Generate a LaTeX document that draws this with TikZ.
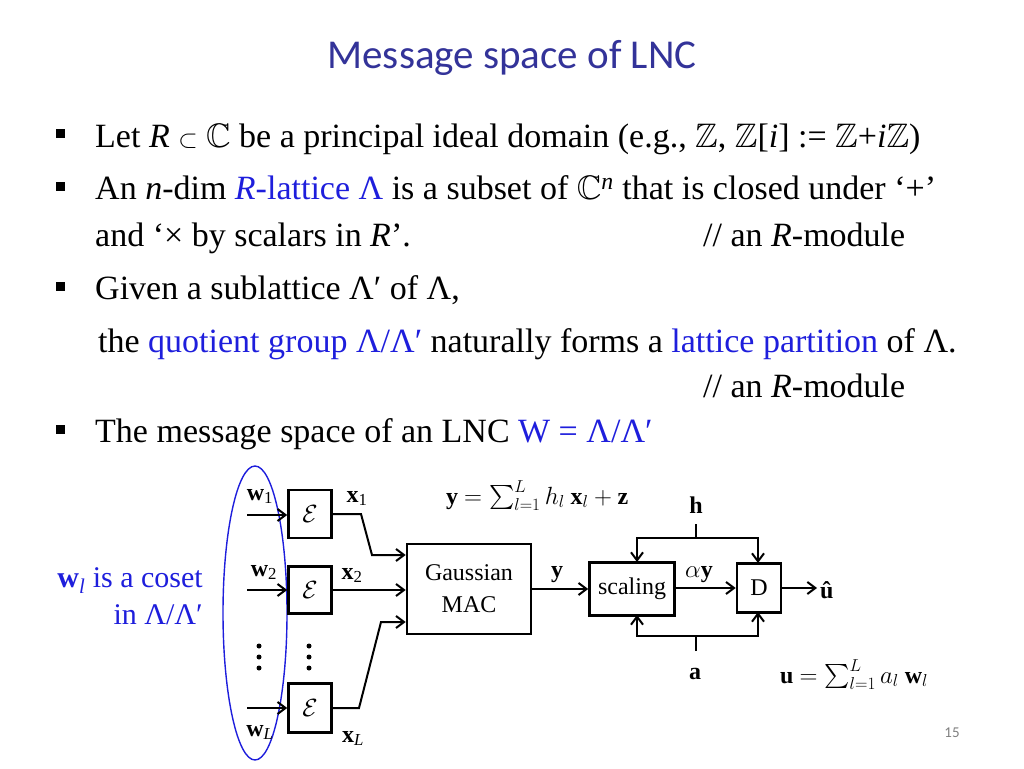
\documentclass[tikz,border=0pt]{standalone}
\usepackage{amssymb}
\usepackage{fontspec}
\setmainfont{Liberation Serif}
\newfontfamily\titlefont{Carlito}
\usetikzlibrary{arrows.meta}
\definecolor{ttl}{RGB}{51,51,153}
\definecolor{hl}{RGB}{30,30,220}
\begin{document}
\begin{tikzpicture}[x=1pt,y=-1pt,
  txt/.style={anchor=base west,inner sep=0pt,font=\fontsize{34}{38}\selectfont},
  dtxt/.style={inner sep=0pt,font=\fontsize{24}{28}\selectfont},
  blk/.style={draw,line width=2.6pt,minimum width=#1,inner sep=0pt},
  arr/.style={line width=2pt,-{Straight Barb[length=8pt,width=12pt,line width=2pt]}},
  ln/.style={line width=2pt}]
\useasboundingbox (0,0) rectangle (1024,768);
\node[inner sep=0pt,font=\titlefont\fontsize{41}{46}\selectfont,text=ttl] (title) at (512,58) {Message space of LNC};
\foreach \yy in {137,190,290,433}{\fill (56,\yy-8) rectangle ++(9,9);}
\node[txt] (l1) at (95,147) {Let \textit{R} $\subset$ $\mathbb{C}$ be a principal ideal domain (e.g., $\mathbb{Z}$, $\mathbb{Z}$[\textit{i}] := $\mathbb{Z}$+\textit{i}$\mathbb{Z}$)};
\node[txt] (l2) at (95,199) {An \textit{n}-dim \textcolor{hl}{\textit{R}-lattice Λ} is a subset of $\mathbb{C}$\textsuperscript{\textit{n}} that is closed under ‘+’};
\node[txt] (l3) at (95,246) {and ‘× by scalars in \textit{R}’.};
\node[txt] (l3b) at (703,246) {// an \textit{R}-module};
\node[txt] (l4) at (95,299) {Given a sublattice Λ′ of Λ,};
\node[txt] (l5) at (98,352) {the \textcolor{hl}{quotient group Λ/Λ′} naturally forms a \textcolor{hl}{lattice partition} of Λ.};
\node[txt] (l5b) at (703,397) {// an \textit{R}-module};
\node[txt] (l6) at (95,442) {The message space of an LNC \textcolor{hl}{W = Λ/Λ′}};
% left labels
\node[anchor=base east,inner sep=0pt,text=hl,font=\fontsize{30}{32}\selectfont] (c1) at (203,587) {\textbf{w}\textsubscript{\textit{l}} is a coset};
\node[anchor=base east,inner sep=0pt,text=hl,font=\fontsize{30}{32}\selectfont] (c2) at (203,624) {in Λ/Λ′};
% ellipse
\draw[hl,line width=1.4pt] (255,613) ellipse [x radius=32,y radius=147];
% encoder boxes
\node[blk=43pt,minimum height=48pt] (e1) at (310,514) {\fontsize{28}{30}\selectfont$\mathcal{E}$};
\node[blk=43pt,minimum height=47pt] (e2) at (310,590) {\fontsize{28}{30}\selectfont$\mathcal{E}$};
\node[blk=43pt,minimum height=49pt] (e3) at (310,708) {\fontsize{28}{30}\selectfont$\mathcal{E}$};
\node[blk=124pt,minimum height=90pt,align=center,dtxt] (mac) at (469,589) {Gaussian\\[4pt]MAC};
\node[blk=85pt,minimum height=53pt,dtxt] (sc) at (632,589) {scaling};
\node[blk=44pt,minimum height=49pt,dtxt] (D) at (759,588) {D};
% inputs
\coordinate (i1) at (247,515); \coordinate (i2) at (247,590); \coordinate (i3) at (247,708);
\draw[arr] (i1) -- (e1.west|-i1);
\draw[arr] (i2) -- (e2.west|-i2);
\draw[arr] (i3) -- (e3.west|-i3);
\node[dtxt,anchor=base] (w1) at (260,500) {\textbf{w}\textsubscript{1}};
\node[dtxt,anchor=base] (w2) at (264,576) {\textbf{w}\textsubscript{2}};
\node[dtxt,anchor=base] (wL) at (260,736) {\textbf{w}\textsubscript{\textit{L}}};
\foreach \xx in {259,309}{\foreach \yy in {646,657,668}{\fill (\xx,\yy) circle (2.5);}}
% x lines
\draw[arr] (e1.east) -- (361,514) -- (372,555) -- (mac.west|-0,555);
\draw[arr] (e2.east) -- (mac.west|-e2);
\draw[arr] (e3.east) -- (359,708) -- (381,622) -- (mac.west|-0,622);
\node[dtxt,anchor=base] (x1) at (357,502) {\textbf{x}\textsubscript{1}};
\node[dtxt,anchor=base] (x2) at (352,579) {\textbf{x}\textsubscript{2}};
\node[dtxt,anchor=base] (xL) at (353,742) {\textbf{x}\textsubscript{\textit{L}}};
\draw[arr] (mac.east|-sc) -- (sc.west);
\node[dtxt,anchor=base] (yl) at (557,577) {\textbf{y}};
\draw[arr] (sc.east|-D) -- (D.west);
\node[dtxt,anchor=base] (ay) at (699,577) {$\alpha$\textbf{y}};
\coordinate (uo) at (817,588);
\draw[arr] (D.east) -- (uo);
\node[dtxt,anchor=west] (uh) at (820,590) {\textbf{û}};
% h and a
\node[dtxt,anchor=base] (h) at (696,513) {\textbf{h}};
\coordinate (hj) at (696,538); \coordinate (aj) at (696,636);
\draw[ln] (696,524) -- (hj);
\draw[arr] (hj) -| (637,562);
\draw[arr] (hj) -| (758,563);
\node[dtxt,anchor=base] (a) at (695,679) {\textbf{a}};
\draw[ln] (696,651) -- (aj);
\draw[arr] (aj) -| (637,615);
\draw[arr] (aj) -| (758,612);
% equations
\node[dtxt,anchor=base west] (ey) at (446,504) {\textbf{y} $=\mathop{\textstyle\sum}\nolimits_{l=1}^{L} h_l\ \mathbf{x}_l+\mathbf{z}$};
\node[dtxt,anchor=base west] (eu) at (780,683) {\textbf{u} $=\mathop{\textstyle\sum}\nolimits_{l=1}^{L} a_l\ \mathbf{w}_l$};
\node[inner sep=0pt,text=gray,font=\titlefont\fontsize{15}{17}\selectfont] (pg) at (952,733) {15};
\end{tikzpicture}
\end{document}
